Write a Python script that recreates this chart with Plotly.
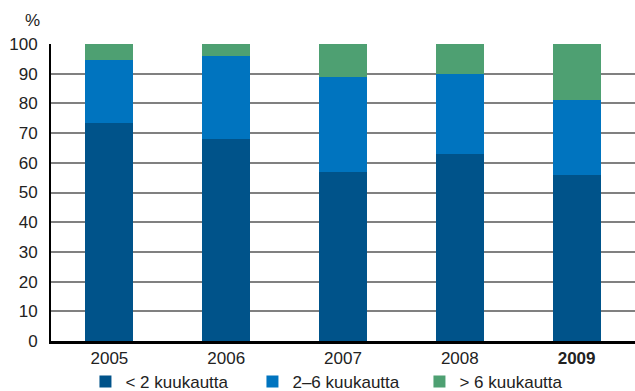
import plotly.graph_objects as go

years = ["2005", "2006", "2007", "2008", "2009"]
tick_labels = ["2005", "2006", "2007", "2008", "<b>2009</b>"]
lt2 = [73.5, 68, 57, 63, 56]
m2_6 = [21, 28, 32, 27, 25]
gt6 = [5.5, 4, 11, 10, 19]
names = ["< 2 kuukautta", "2–6 kuukautta", "> 6 kuukautta"]
colors = ["#00538A", "#0074BF", "#4EA072"]

fig = go.Figure()
for vals, name, col in zip([lt2, m2_6, gt6], names, colors):
    fig.add_trace(go.Bar(x=years, y=vals, name=name, marker=dict(color=col, line=dict(width=0))))

fig.update_layout(
    barmode="stack",
    bargap=0.59,
    width=635, height=391,
    margin=dict(l=51, r=0, t=44, b=50, autoexpand=False),
    plot_bgcolor="white", paper_bgcolor="white",
    font=dict(family="Liberation Sans", size=17, color="#222222"),
    legend=dict(orientation="h", x=0.059, xanchor="left", y=-0.077, yanchor="top",
                font=dict(size=17), traceorder="normal", entrywidth=122, entrywidthmode="pixels"),
    showlegend=True,
)
fig.update_xaxes(tickmode="array", tickvals=years, ticktext=tick_labels,
                 showline=True, linecolor="black", linewidth=2.5, ticks="", showgrid=False)
fig.update_yaxes(range=[0, 100], dtick=10, showgrid=True, gridcolor="#808080", gridwidth=1.5,
                 showline=True, linecolor="black", linewidth=2, ticks="", zeroline=False,
                 ticklabelstandoff=8)
fig.add_annotation(text="%", xref="paper", yref="paper", x=-0.015, y=1.04, xanchor="right",
                   yanchor="bottom", showarrow=False, font=dict(size=17))
fig.write_html("out.html")
